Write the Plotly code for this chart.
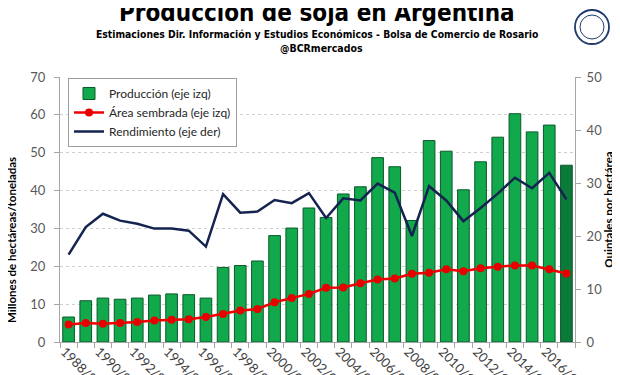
import plotly.graph_objects as go

campanas = ["1988/89", "1989/90", "1990/91", "1991/92", "1992/93", "1993/94", "1994/95",
            "1995/96", "1996/97", "1997/98", "1998/99", "1999/00", "2000/01", "2001/02",
            "2002/03", "2003/04", "2004/05", "2005/06", "2006/07", "2007/08", "2008/09",
            "2009/10", "2010/11", "2011/12", "2012/13", "2013/14", "2014/15", "2015/16",
            "2016/17", "2017/18"]

produccion = [6.6, 10.9, 11.6, 11.3, 11.6, 12.4, 12.7, 12.5, 11.6, 19.7, 20.2, 21.4, 28.1, 30.1,
              35.4, 32.9, 39.1, 41.0, 48.7, 46.3, 32.1, 53.2, 50.4, 40.2, 47.6, 54.1, 60.3, 55.5,
              57.3, 46.7]

area_sembrada = [4.6, 5.0, 4.8, 5.0, 5.3, 5.7, 5.9, 6.0, 6.6, 7.4, 8.3, 8.7, 10.5, 11.6, 12.7,
                 14.3, 14.4, 15.5, 16.5, 16.8, 18.0, 18.3, 19.2, 18.7, 19.5, 19.9, 20.2, 20.2,
                 19.2, 18.1]

rendimiento = [16.5, 21.7, 24.2, 22.9, 22.3, 21.4, 21.4, 21.0, 18.0, 27.9, 24.4, 24.6, 26.8, 26.2,
               28.1, 23.4, 27.1, 26.7, 29.9, 28.2, 20.0, 29.4, 26.7, 22.8, 25.3, 28.0, 31.0, 29.0,
               31.9, 26.9]

tick_labels = campanas[::2]

W, H = 620, 375
ML, MR, MT, MB = 52, 53, 69, 41
PW, PH = W - ML - MR, H - MT - MB


def xp(px):
    return (px - ML) / PW


def yp(py):
    return (H - MB - py) / PH


idx = list(range(len(campanas)))
bar_colors = ["#12A84C"] * (len(campanas) - 1) + ["#0B7A3A"]

fig = go.Figure()
fig.add_trace(go.Bar(
    x=idx, y=produccion, name="Producción (eje izq)", width=0.68,
    marker=dict(color=bar_colors, line=dict(color="#0A5A28", width=1)),
    customdata=campanas,
))
fig.add_trace(go.Scatter(
    x=idx, y=area_sembrada, name="Área sembrada (eje izq)", mode="lines+markers",
    line=dict(color="#F00000", width=2.5),
    marker=dict(color="#E80000", size=8, symbol="circle"),
))
fig.add_trace(go.Scatter(
    x=idx, y=rendimiento, name="Rendimiento (eje der)", mode="lines", yaxis="y2",
    line=dict(color="#14234F", width=2.5),
))

axis_gray = "#A6A6A6"
tick_font = dict(family="Lato, sans-serif", size=13, color="#595959")
axis_title_font = dict(family="Lato, sans-serif", size=11.5, color="black", weight="bold")

fig.update_layout(
    width=W, height=H,
    margin=dict(l=ML, r=MR, t=MT, b=MB, autoexpand=False),
    paper_bgcolor="white", plot_bgcolor="white",
    showlegend=True,
    legend=dict(
        x=xp(60), y=yp(70), xanchor="left", yanchor="top",
        bgcolor="white", bordercolor="#9E9E9E", borderwidth=1,
        font=dict(family="Lato, sans-serif", size=12, color="#262626"),
        itemwidth=30, tracegroupgap=0,
    ),
    bargap=0.32,
    xaxis=dict(
        range=[-0.5, len(campanas) - 0.5],
        tickmode="array", tickvals=idx[::2], ticktext=tick_labels,
        tickangle=45, ticks="", ticklen=0, automargin=False,
        ticklabelstandoff=-4, ticklabelshift=-4,
        tickfont=dict(family="Lato, sans-serif", size=13, color="#404040"),
        showline=True, linecolor=axis_gray, linewidth=1,
        showgrid=False, zeroline=False,
        minor=dict(tickmode="linear", tick0=-0.5, dtick=1, ticks="outside",
                   ticklen=5, tickcolor=axis_gray, showgrid=False),
    ),
    yaxis=dict(
        range=[0, 70], dtick=10, tick0=0,
        showline=True, linecolor=axis_gray, linewidth=1,
        ticks="outside", ticklen=5, tickcolor=axis_gray,
        showgrid=True, gridcolor="#CFCFCF", griddash="dot", gridwidth=1,
        zeroline=False, tickfont=tick_font, automargin=False, ticklabelstandoff=6,
    ),
    yaxis2=dict(
        range=[0, 50], dtick=10, tick0=0, overlaying="y", side="right",
        showline=True, linecolor=axis_gray, linewidth=1,
        ticks="outside", ticklen=5, tickcolor=axis_gray,
        showgrid=False, zeroline=False, tickfont=tick_font, automargin=False,
        ticklabelstandoff=3,
        title=dict(text="Quintales por hectárea", font=axis_title_font, standoff=0),
    ),
)

title_font = "DejaVu Sans Condensed, Liberation Sans Narrow, Arial Narrow, sans-serif"
annotations = [
    dict(text="Produccion de soja en Argentina", x=xp(309), y=yp(5.5),
         font=dict(family=title_font, size=24, color="black", weight="bold")),
    dict(text="Estimaciones Dir. Información y Estudios Económicos - Bolsa de Comercio de Rosario",
         x=xp(309), y=yp(26.5), font=dict(family=title_font, size=10.3, color="black", weight="bold")),
    dict(text="@BCRmercados", x=xp(313), y=yp(40.5),
         font=dict(family=title_font, size=10.5, color="black", weight="bold")),
    dict(text="Millones de hectáreas/toneladas", x=xp(3), y=yp(232), textangle=-90,
         font=axis_title_font),
]
for a in annotations:
    a.update(xref="paper", yref="paper", showarrow=False, xanchor="center", yanchor="middle")
fig.update_layout(annotations=annotations)

# seal / logo
cx, cy = 584, 19
for r, w in [(17, 1.8), (12, 1.0)]:
    fig.add_shape(type="circle", xref="paper", yref="paper",
                  x0=xp(cx - r), x1=xp(cx + r), y0=yp(cy + r), y1=yp(cy - r),
                  line=dict(color="#1E3A6E", width=w), fillcolor="rgba(0,0,0,0)", layer="above")

fig.write_html("out.html")
